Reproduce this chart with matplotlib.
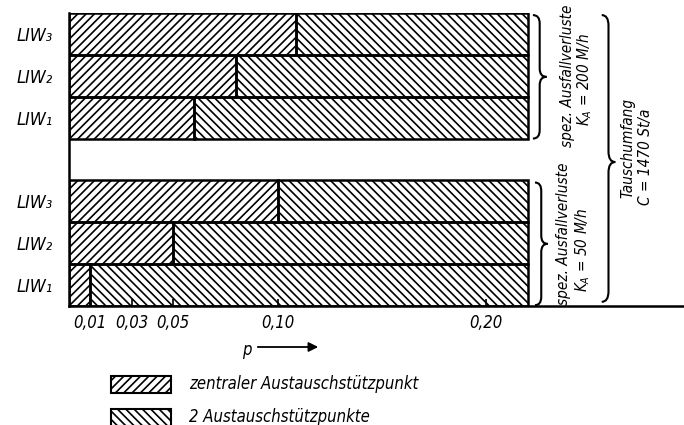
import matplotlib
matplotlib.use('Agg')
import matplotlib.pyplot as plt
from matplotlib.patches import Rectangle, PathPatch, FancyArrowPatch
from matplotlib.path import Path

plt.rcParams['font.family'] = ['DejaVu Sans']
plt.rcParams['font.style'] = 'italic'
plt.rcParams['font.stretch'] = 'condensed'
plt.rcParams['mathtext.fontset'] = 'custom'
plt.rcParams['mathtext.it'] = 'DejaVu Sans:italic'
plt.rcParams['mathtext.rm'] = 'DejaVu Sans:italic'
plt.rcParams['hatch.linewidth'] = 1.2

# Daten: Anteil p am Schnittpunkt zentral / 2 Stützpunkte
rows = ['LIW₁', 'LIW₂', 'LIW₃']
p_50 = [0.01, 0.05, 0.10]       # K_A = 50 M/h
p_200 = [0.06, 0.08, 0.109]     # K_A = 200 M/h
p_end = 0.22
xticks = [0.01, 0.03, 0.05, 0.10, 0.20]
xtick_labels = ['0,01', '0,03', '0,05', '0,10', '0,20']

y_50 = [0, 1, 2]
y_200 = [4, 5, 6]

fig = plt.figure(figsize=(6.84, 4.25), dpi=100)
ax = fig.add_axes([69 / 684, 119 / 425, 615 / 684, 293 / 425])

for ys, ps in ((y_50, p_50), (y_200, p_200)):
    ax.barh(ys, ps, height=1, fill=False, hatch='////', edgecolor='black', linewidth=1.8)
    ax.barh(ys, [p_end - p for p in ps], left=ps, height=1, fill=False,
            hatch='\\\\\\\\', edgecolor='black', linewidth=1.8)

ax.set_xlim(0, 615 / 2085)
ax.set_ylim(-0.5, 6.5)
ax.spines['top'].set_visible(False)
ax.spines['right'].set_visible(False)
ax.spines['left'].set_linewidth(1.8)
ax.spines['bottom'].set_linewidth(1.8)
ax.set_xticks(xticks)
ax.set_xticklabels(xtick_labels, fontsize=12)
ax.set_yticks(y_50 + y_200)
ax.set_yticklabels(rows + rows, fontsize=13)
ax.tick_params(axis='x', direction='in', length=5, width=1.2, pad=6)
ax.tick_params(axis='y', length=0, pad=12)


def brace(x, y0, y1, w, r, ym=None):
    xm, xp = x + w / 2, x + w
    ym = (y0 + y1) / 2 if ym is None else ym
    verts = [(x, y1), (xm, y1), (xm, y1 - r), (xm, ym + r), (xm, ym), (xp, ym),
             (xm, ym), (xm, ym - r), (xm, y0 + r), (xm, y0), (x, y0)]
    codes = [Path.MOVETO, Path.CURVE3, Path.CURVE3, Path.LINETO, Path.CURVE3, Path.CURVE3,
             Path.CURVE3, Path.CURVE3, Path.LINETO, Path.CURVE3, Path.CURVE3]
    ax.add_patch(PathPatch(Path(verts, codes), fill=False, lw=1.5, clip_on=False))


brace(0.2225, 3.5, 6.45, 0.0065, 0.2)
brace(0.2235, -0.48, 2.45, 0.0060, 0.2)
brace(0.2555, -0.4, 6.45, 0.0065, 0.25, ym=2.94)

kw = dict(rotation=90, ha='center', va='center', fontsize=11)
ax.text(0.2393, 5.00, 'spez. Ausfallverluste', **kw)
ax.text(0.2473, 4.90, r'$K_A$ = 200 M/h', **kw)
ax.text(0.2371, 1.22, 'spez. Ausfallverluste', **kw)
ax.text(0.2463, 0.84, r'$K_A$ = 50 M/h', **kw)
ax.text(0.2680, 3.27, 'Tauschumfang', **kw)
ax.text(0.2763, 3.06, 'C = 1470 St/a', **kw)

# Achsenbezeichnung p mit Pfeil
fig.text(247 / 684, 1 - 350 / 425, 'p', ha='center', va='center', fontsize=12)
fig.add_artist(FancyArrowPatch(
    (255 / 684, 1 - 347 / 425), (321 / 684, 1 - 347 / 425),
    transform=fig.transFigure, arrowstyle='-|>', mutation_scale=14, lw=1.3, color='black'))

# Legende
for y_px, hatch, label in ((384, '////', 'zentraler Austauschstützpunkt'),
                           (417, '\\\\\\\\', '2 Austauschstützpunkte')):
    fig.add_artist(Rectangle((111 / 684, 1 - (y_px + 9) / 425), 60 / 684, 17 / 425,
                             transform=fig.transFigure, fill=False, hatch=hatch,
                             edgecolor='black', lw=1.5))
    fig.text(189 / 684, 1 - y_px / 425, label, ha='left', va='center', fontsize=12)

fig.savefig('out.png', dpi=100)
